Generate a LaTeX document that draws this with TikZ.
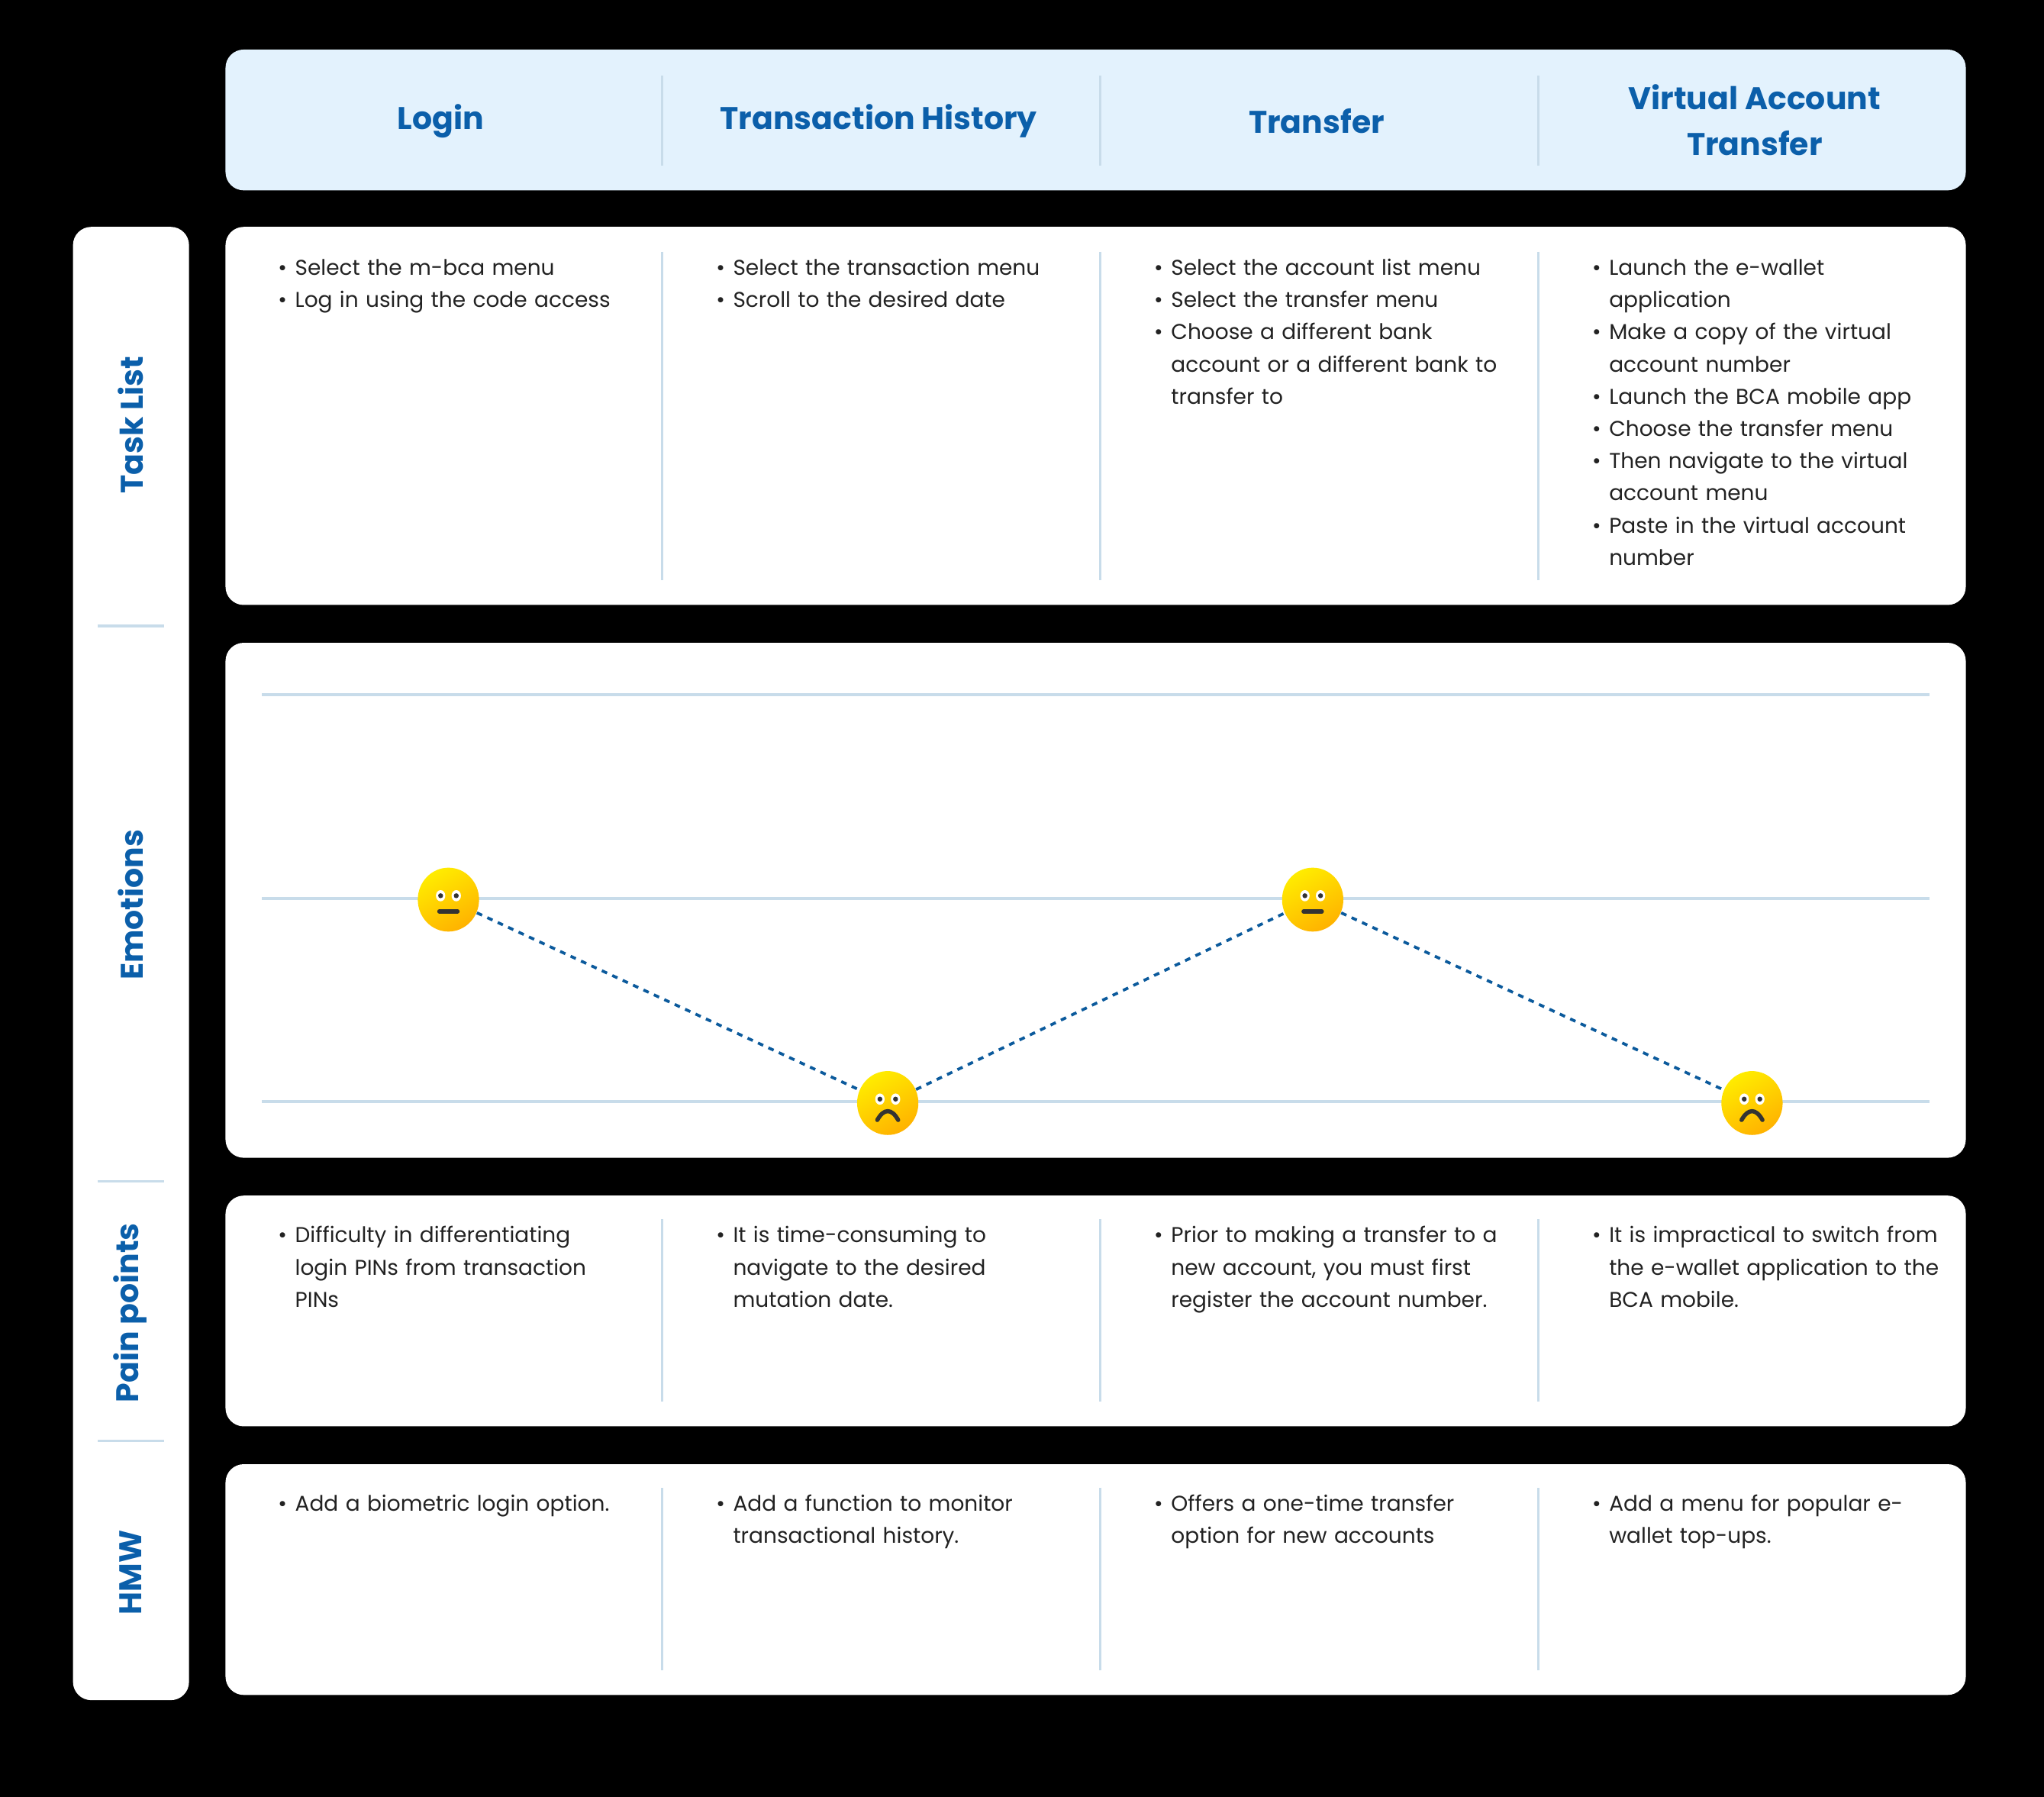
\documentclass[tikz,border=0pt]{standalone}
\usepackage{fontspec}
\setmainfont{Poppins}
\usetikzlibrary{shapes.geometric,calc}
\definecolor{hblue}{HTML}{0B5FAA}
\definecolor{hfill}{HTML}{E3F2FD}
\definecolor{sep}{HTML}{C8DCEA}
\definecolor{txt}{HTML}{222222}
\definecolor{dotb}{HTML}{0B5A9C}
\newcommand{\bl}[1]{\par\noindent\llap{\makebox[6.5pt][l]{\textbullet}}#1}
\newcommand{\cellsetup}{\hyphenpenalty=10000\relax\exhyphenpenalty=10000\relax\leftskip=6.5pt\relax}
\tikzset{
  panel/.style={fill=white,rounded corners=7pt,draw=none},
  vsep/.style={draw=sep,line width=1pt},
  cell/.style={anchor=north west,inner sep=0pt,text width=132.5pt,align=left,
    font=\fontsize{8.2}{12.35}\selectfont\cellsetup,text=txt},
  head/.style={font=\fontsize{12}{17.5}\selectfont\bfseries,text=hblue,align=center},
  rowlab/.style={font=\fontsize{12}{14}\selectfont\bfseries,text=hblue,rotate=90},
  face/.style={ellipse,minimum width=23.5pt,minimum height=24.5pt,inner sep=0pt,shading=axis,top color=yellow!85!orange,bottom color=orange!60!yellow,shading angle=30,draw=none},
  link/.style={draw=dotb,line width=1.1pt,dash pattern=on 2.2pt off 2.2pt}
}
\newcommand{\eyes}[1]{%
  \fill[white] ($(#1)+(-6,-3)$) ellipse (3.6 and 4.3);
  \fill[white] ($(#1)+(6,-3)$) ellipse (3.6 and 4.3);
  \fill[black!80] ($(#1)+(-6,-3)$) circle (1.9);
  \fill[black!80] ($(#1)+(6,-3)$) circle (1.9);}
\begin{document}
\begin{tikzpicture}[x=0.5pt,y=-0.5pt]
\fill[black] (0,0) rectangle (1568,1378);
\useasboundingbox (0,0) rectangle (1568,1378);
% header
\fill[hfill,rounded corners=7pt] (173,38) rectangle (1508,146);
\foreach \x in {508,844,1180}{\draw[vsep] (\x,58) -- (\x,127);}
\node[head] (h1) at (338,93) {Login};
\node[head] (h2) at (674,93) {Transaction History};
\node[head] (h3) at (1010,93) {Transfer};
\node[head] (h4) at (1346,92) {Virtual Account\\Transfer};
% side panel
\fill[panel] (56,174) rectangle (145,1304);
\foreach \y in {480,906,1105}{\draw[sep,line width=1pt] (75,\y) -- (126,\y);}
\node[rowlab] (r1) at (100,326) {Task List};
\node[rowlab] (r2) at (100,694) {Emotions};
\node[rowlab] (r3) at (100,1007) {Pain points};
\node[rowlab] (r4) at (100,1206) {HMW};
% panels
\fill[panel] (173,174) rectangle (1508,464);
\fill[panel] (173,493) rectangle (1508,888);
\fill[panel] (173,917) rectangle (1508,1094);
\fill[panel] (173,1123) rectangle (1508,1300);
\foreach \x in {508,844,1180}{
  \draw[vsep] (\x,193) -- (\x,445);
  \draw[vsep] (\x,935) -- (\x,1075);
  \draw[vsep] (\x,1141) -- (\x,1281);}
% task list
\node[cell] (t1) at (226,186) {\bl{Select the m-bca menu}\bl{Log in using the code access}};
\node[cell] (t2) at (562,186) {\bl{Select the transaction menu}\bl{Scroll to the desired date}};
\node[cell] (t3) at (898,186) {\bl{Select the account list menu}\bl{Select the transfer menu}\bl{Choose a different bank account or a different bank to transfer to}};
\node[cell,text width=126pt] (t4) at (1234,186) {\bl{Launch the e-wallet application}\bl{Make a copy of the virtual account number}\bl{Launch the BCA mobile app}\bl{Choose the transfer menu}\bl{Then navigate to the virtual account menu}\bl{Paste in the virtual account number}};
% pain points
\node[cell,text width=125pt] (p1) at (226,928) {\bl{Difficulty in differentiating login PINs from transaction PINs}};
\node[cell] (p2) at (562,928) {\bl{It is time-consuming to navigate to the desired mutation date.}};
\node[cell] (p3) at (898,928) {\bl{Prior to making a transfer to a\\new account, you must first register the account number.}};
\node[cell] (p4) at (1234,928) {\bl{It is impractical to switch from the e-wallet application to the BCA mobile.}};
% HMW
\node[cell] (w1) at (226,1134) {\bl{Add a biometric login option.}};
\node[cell] (w2) at (562,1134) {\bl{Add a function to monitor transactional history.}};
\node[cell] (w3) at (898,1134) {\bl{Offers a one-time transfer option for new accounts}};
\node[cell] (w4) at (1234,1134) {\bl{Add a menu for popular e-\hskip0pt wallet top-ups.}};
% emotions grid
\foreach \y in {533,689,845}{\draw[sep,line width=1.2pt] (201,\y) -- (1480,\y);}
\node[face] (e1) at (344,690) {};
\node[face] (e2) at (681,846) {};
\node[face] (e3) at (1007,690) {};
\node[face] (e4) at (1344,846) {};
\draw[link] (e1) -- (e2);
\draw[link] (e2) -- (e3);
\draw[link] (e3) -- (e4);
\foreach \e in {e1,e2,e3,e4}{\eyes{\e}}
\foreach \e in {e1,e3}{\draw[black!80,line width=1.6pt,line cap=round] ($(\e)+(-7,9)$) -- ($(\e)+(7,9)$);}
\foreach \e in {e2,e4}{\draw[black!80,line width=1.6pt,line cap=round] ($(\e)+(-8,13)$) .. controls ($(\e)+(-3,4)$) and ($(\e)+(3,4)$) .. ($(\e)+(8,13)$);}
\end{tikzpicture}
\end{document}
